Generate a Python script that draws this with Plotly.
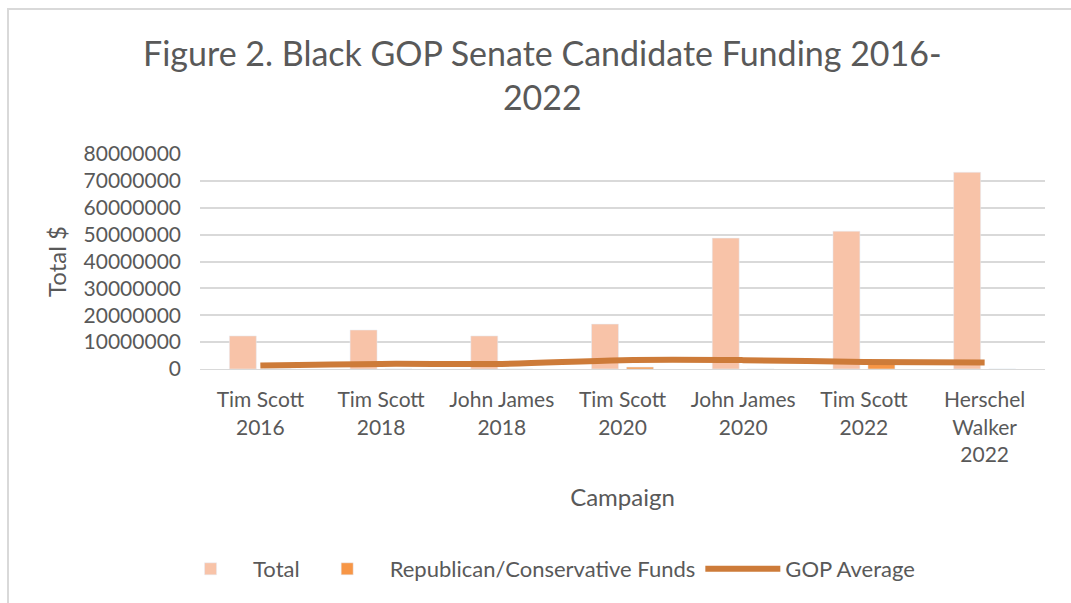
import plotly.graph_objects as go

campaigns = ["Tim Scott<br>2016", "Tim Scott<br>2018", "John James<br>2018", "Tim Scott<br>2020",
             "John James<br>2020", "Tim Scott<br>2022", "Herschel<br>Walker<br>2022"]
total = [12300000, 14500000, 12300000, 16700000, 48700000, 51300000, 73200000]
rep_funds = [0, 0, 0, 700000, 0, 2400000, 0]
gop_avg = [1300000, 1900000, 1900000, 3300000, 3300000, 2600000, 2400000]
y_ticks = [0, 10000000, 20000000, 30000000, 40000000, 50000000, 60000000, 70000000, 80000000]

FONT = "Lato"
GREY = "#595959"

fig = go.Figure()
fig.add_trace(go.Bar(x=campaigns, y=total, name="Total", marker_color="#F8C3A8"))
fig.add_trace(go.Bar(x=campaigns, y=rep_funds, name="Republican/Conservative Funds", marker_color="#F79646"))
fig.add_trace(go.Scatter(x=campaigns, y=gop_avg, name="GOP Average", mode="lines",
                         line=dict(color="#CD7B39", width=6, shape="spline")))

fig.update_layout(
    width=1071, height=603,
    margin=dict(l=200, r=26, t=154, b=234),
    paper_bgcolor="white", plot_bgcolor="white",
    font=dict(family=FONT, color=GREY, size=21),
    barmode="group", bargap=0.42, bargroupgap=0.23,
    showlegend=True,
    legend=dict(orientation="h", x=0.508, xref="container", xanchor="center",
                y=1 - 569 / 603, yref="container", yanchor="middle",
                font=dict(family=FONT, size=22, color=GREY), itemwidth=75,
                traceorder="normal"),
    annotations=[dict(text="Figure 2. Black GOP Senate Candidate Funding 2016-<br>2022",
                      xref="paper", yref="paper", x=(542 - 200) / 845, y=1 + (154 - 75) / 215,
                      xanchor="center", yanchor="middle", showarrow=False,
                      font=dict(family=FONT, size=34, color=GREY))],
    shapes=[dict(type="rect", xref="paper", yref="paper",
                 x0=-192 / 845, x1=1.3, y0=-1.5, y1=1 + 145 / 215,
                 line=dict(color="#D9D9D9", width=2), fillcolor="rgba(0,0,0,0)", layer="below")],
)

fig.update_xaxes(showgrid=False, showline=True, linecolor="#D9D9D9", linewidth=1,
                 ticks="", tickfont=dict(size=21, color=GREY), ticklabelstandoff=12,
                 title=dict(text="Campaign", font=dict(size=24, color=GREY), standoff=24))
fig.update_yaxes(range=[0, 80000000], tickvals=y_ticks, tickformat="d",
                 showgrid=True, gridcolor="#D9D9D9", gridwidth=2, zeroline=False,
                 showline=False, ticks="", ticklabelstandoff=18,
                 tickfont=dict(size=21, color=GREY),
                 title=dict(text="Total $", font=dict(size=24, color=GREY), standoff=10))

fig.write_html("out.html")
